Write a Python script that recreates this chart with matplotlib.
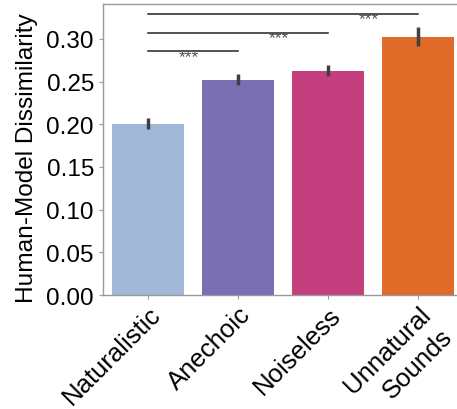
import numpy as np
import matplotlib.pyplot as plt

# Mean dissimilarity per training condition, with error bar bounds
conditions = ["Naturalistic", "Anechoic", "Noiseless", "Unnatural\nSounds"]
means = [0.200, 0.252, 0.263, 0.302]
err_low = [0.195, 0.246, 0.257, 0.292]
err_high = [0.207, 0.259, 0.270, 0.314]
bar_colors = ["#a1b7d8", "#7b6fb3", "#c53f7f", "#e06a28"]

# pairwise comparisons against the naturalistic condition
comparisons = [(0, 1), (0, 2), (0, 3)]
comp_heights = [0.2855, 0.3075, 0.3297]
comp_labels = ["***", "***", "***"]

plt.rcParams['font.family'] = ['Liberation Sans', 'DejaVu Sans']

fig = plt.figure(figsize=(4.57, 4.10), dpi=100)
ax = fig.add_axes([0.2254, 0.278, 0.788, 0.710])

x = np.arange(len(conditions))
ax.bar(x, means, width=0.8, color=bar_colors)
yerr = [np.array(means) - np.array(err_low), np.array(err_high) - np.array(means)]
ax.errorbar(x, means, yerr=yerr, fmt='none', ecolor='#404040', elinewidth=2.5, capsize=0)

for (a, b), h, lab in zip(comparisons, comp_heights, comp_labels):
    ax.plot([a, b], [h, h], color='#222222', lw=1.1)
    ax.text(b - 0.55, h - 0.0065, lab, ha='center', va='center', fontsize=12.5, color='#505050')

ax.set_xlim(-0.5, 3.5)
ax.set_ylim(0, 0.341)
ax.set_yticks([0.0, 0.05, 0.10, 0.15, 0.20, 0.25, 0.30])
ax.set_yticklabels(["0.00", "0.05", "0.10", "0.15", "0.20", "0.25", "0.30"])
ax.set_xticks(x)
ax.set_xticklabels(conditions, rotation=45, ha='right', rotation_mode='anchor',
                   linespacing=1.35, multialignment='right', fontsize=18.5)
ax.tick_params(axis='y', labelsize=17.5)
ax.tick_params(axis='both', length=3, color='#999999', width=0.8)
ax.tick_params(axis='x', pad=2)
ax.set_ylabel("Human-Model Dissimilarity", fontsize=17.6)
ax.yaxis.set_label_coords(-0.18, 0.474)

for s in ax.spines.values():
    s.set_color('#999999')
    s.set_linewidth(1.0)

fig.savefig("out.png", dpi=100)
